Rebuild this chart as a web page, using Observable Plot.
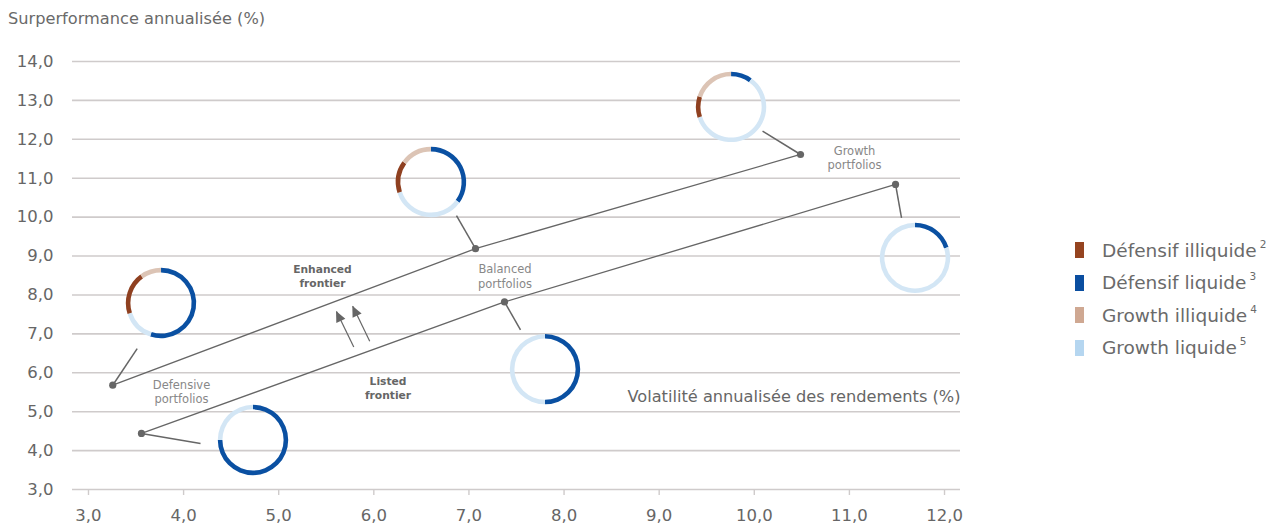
<!DOCTYPE html>
<html>
<head>
<meta charset="utf-8">
<script src="https://cdn.jsdelivr.net/npm/d3@7"></script>
<script src="https://cdn.jsdelivr.net/npm/@observablehq/plot@0.6"></script>
<style>
  body { margin: 0; background: #fff; }
  #wrap { position: relative; width: 1271px; height: 526px; font-family: "DejaVu Sans", sans-serif; color: #666; }
  #chart { position: absolute; left: 0; top: 0; }
  #ylabel { position: absolute; left: 8px; top: 9px; font-size: 16.2px; color: #6a6a6a; white-space: nowrap; }
  #legend { position: absolute; left: 1075px; top: 234px; }
  .row { display: flex; align-items: center; height: 32.5px; font-size: 18.5px; color: #6a6a6a; white-space: nowrap; }
  .sw { width: 9px; height: 16px; margin-right: 18px; flex: none; }
  .row sup { font-size: 10.5px; margin-left: 3px; position: relative; top: -2px; }
</style>
</head>
<body>
<div id="wrap">
  <div id="chart"></div>
  <div id="ylabel"></div>
  <div id="legend"></div>
</div>
<script>
// ---------- data ----------
const yTitle = "Surperformance annualisée (%)";
const xTitle = "Volatilité annualisée des rendements (%)";

const categories = ["Défensif illiquide", "Défensif liquide", "Growth illiquide", "Growth liquide"];
const footnotes = ["2", "3", "4", "5"];
const legendColors = ["#954420", "#0a4ea0", "#cfa892", "#b5d6f0"];

const xTicks = [3, 4, 5, 6, 7, 8, 9, 10, 11, 12];
const yTicks = [3, 4, 5, 6, 7, 8, 9, 10, 11, 12, 13, 14];

// frontier points (Defensive, Balanced, Growth)
const portfolios = ["Defensive", "Balanced", "Growth"];
const enhancedX = [3.255, 7.069, 10.486];
const enhancedY = [5.68, 9.19, 11.61];
const listedX = [3.557, 7.374, 11.485];
const listedY = [4.44, 7.82, 10.84];

// donut allocations; clockwise from 12 o'clock: DL, GL, DI, GI (%)
const donutFrontier = ["Enhanced", "Enhanced", "Enhanced", "Listed", "Listed", "Listed"];
const donutX = [3.768, 6.606, 9.761, 4.735, 7.805, 11.695];
const donutY = [7.78, 10.89, 12.82, 4.26, 6.08, 8.94];
const shareDL = [55, 35, 10, 75, 50, 20];
const shareGL = [15, 35, 60, 25, 50, 80];
const shareDI = [20, 15, 10, 0, 0, 0];
const shareGI = [10, 15, 20, 0, 0, 0];

// leader lines: donut end -> frontier point
const leaderX = [3.512, 6.869, 10.087, 4.178, 7.542, 11.548];
const leaderY = [6.62, 10.04, 12.21, 4.18, 7.10, 9.98];

// shift arrows (tail -> tip)
const arrowX1 = [5.789, 5.957];
const arrowY1 = [6.66, 6.81];
const arrowX2 = [5.608, 5.779];
const arrowY2 = [7.575, 7.71];

// annotations
const noteText = ["Enhanced\nfrontier", "Listed\nfrontier", "Defensive\nportfolios", "Balanced\nportfolios", "Growth\nportfolios"];
const noteX = [5.460, 6.149, 3.978, 7.379, 11.054];
const noteY = [8.50, 5.622, 5.519, 8.493, 11.533];
const noteBold = [true, true, false, false, false];
const xTitleX = 12.168;
const xTitleY = 5.39;

// ---------- styles ----------
const ringColor = { DL: "#0a50a2", GL: "#d3e6f5", DI: "#8f4020", GI: "#dcc4b5" };
const ink = "#666";
const gridColor = "#cfcbcb";
const fmt = d => d.toFixed(1).replace(".", ",");

// ---------- tables ----------
const enhanced = portfolios.map((p, i) => ({ p, x: enhancedX[i], y: enhancedY[i] }));
const listed = portfolios.map((p, i) => ({ p, x: listedX[i], y: listedY[i] }));
const frontierPts = enhanced.concat(listed);
const leaders = donutX.map((_, i) => ({ x1: leaderX[i], y1: leaderY[i], x2: frontierPts[i].x, y2: frontierPts[i].y }));
const arrows = arrowX1.map((_, i) => ({ x1: arrowX1[i], y1: arrowY1[i], x2: arrowX2[i], y2: arrowY2[i] }));
const notes = noteText.map((t, i) => ({ t, x: noteX[i], y: noteY[i], b: noteBold[i] }));
const donuts = donutX.map((x, i) => ({
  frontier: donutFrontier[i], x, y: donutY[i],
  parts: [["DL", shareDL[i]], ["GL", shareGL[i]], ["DI", shareDI[i]], ["GI", shareGI[i]]]
}));

const chart = Plot.plot({
  width: 1271,
  height: 526,
  marginLeft: 72,
  marginRight: 311,
  marginTop: 61,
  marginBottom: 37,
  style: { fontFamily: "DejaVu Sans, sans-serif", fontSize: "16px", color: ink, background: "transparent" },
  x: { domain: [2.832, 12.168], axis: null },
  y: { domain: [3, 14], axis: null },
  marks: [
    Plot.gridY(yTicks, { stroke: gridColor, strokeOpacity: 1, strokeWidth: 1.6 }),
    Plot.axisY({ ticks: yTicks, tickFormat: fmt, tickSize: 0, tickPadding: 19, fontSize: 16.5, fill: ink }),
    Plot.axisX({ ticks: xTicks, tickFormat: fmt, tickSize: 6, tickPadding: 14, fontSize: 16.5, stroke: gridColor, strokeWidth: 1.4, strokeOpacity: 1, fill: ink }),
    Plot.line(enhanced, { x: "x", y: "y", stroke: ink, strokeWidth: 1.3 }),
    Plot.line(listed, { x: "x", y: "y", stroke: ink, strokeWidth: 1.3 }),
    Plot.link(leaders, { x1: "x1", y1: "y1", x2: "x2", y2: "y2", stroke: ink, strokeWidth: 1.5 }),
    Plot.link(arrows, { x1: "x1", y1: "y1", x2: "x2", y2: "y2", stroke: ink, strokeWidth: 1.2 }),
    Plot.dot(frontierPts, { x: "x", y: "y", r: 3.6, fill: ink, stroke: "none" }),
    Plot.text(notes.filter(d => d.b), { x: "x", y: "y", text: "t", fontSize: 10.7, fontWeight: "bold", fill: ink, lineHeight: 1.3 }),
    Plot.text(notes.filter(d => !d.b), { x: "x", y: "y", text: "t", fontSize: 11.5, fill: "#888", lineHeight: 1.25 }),
    Plot.text([xTitle], { x: () => xTitleX, y: () => xTitleY, text: d => d, textAnchor: "end", fontSize: 16.2, fill: ink })
  ]
});

// donuts & arrowheads, positioned through the plot's own scales
const sx = chart.scale("x"), sy = chart.scale("y");
const svg = d3.select(chart);
const pie = d3.pie().sort(null).value(d => d[1]);
const arc = d3.arc().innerRadius(30.6).outerRadius(35.2);
const gDonut = svg.append("g");
donuts.forEach(d => {
  const g = gDonut.append("g").attr("transform", `translate(${sx.apply(d.x)},${sy.apply(d.y)})`);
  g.selectAll("path").data(pie(d.parts.filter(p => p[1] > 0))).join("path")
    .attr("d", arc).attr("fill", p => ringColor[p.data[0]]);
});
const gHead = svg.append("g").attr("fill", ink);
arrows.forEach(a => {
  const tx = sx.apply(a.x2), ty = sy.apply(a.y2);
  const bx = sx.apply(a.x1), by = sy.apply(a.y1);
  const len = Math.hypot(tx - bx, ty - by);
  const ux = (tx - bx) / len, uy = (ty - by) / len;
  const L = 11, W = 5;
  const cx = tx - ux * L, cy = ty - uy * L;
  gHead.append("path").attr("d",
    `M${tx},${ty}L${cx - uy * W},${cy + ux * W}L${cx + uy * W},${cy - ux * W}Z`);
});

document.getElementById("chart").appendChild(chart);
document.getElementById("ylabel").textContent = yTitle;

const legend = d3.select("#legend");
categories.forEach((c, i) => {
  const row = legend.append("div").attr("class", "row");
  row.append("div").attr("class", "sw").style("background", legendColors[i]);
  const t = row.append("span").text(c);
  t.append("sup").text(footnotes[i]);
});
</script>
</body>
</html>
